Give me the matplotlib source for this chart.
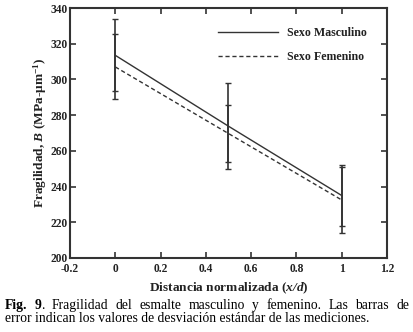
import numpy as np
import matplotlib
matplotlib.use("Agg")
import matplotlib.pyplot as plt

plt.rcParams['font.family'] = ['Liberation Serif', 'DejaVu Serif']
plt.rcParams['mathtext.fontset'] = 'custom'
plt.rcParams['mathtext.rm'] = 'Liberation Serif:bold'
plt.rcParams['mathtext.it'] = 'Liberation Serif:italic'
plt.rcParams['mathtext.bf'] = 'Liberation Serif:bold'
plt.rcParams['mathtext.bfit'] = 'Liberation Serif:bold:italic'

# datos
x = [0, 0.5, 1]
masculino = [313.5, 273.8, 235.0]
femenino = [307.0, 269.7, 232.5]
err_masc = [20.2, 24.2, 17.1]
err_fem = [18.2, 16.0, 18.6]

xticks = [-0.2, 0, 0.2, 0.4, 0.6, 0.8, 1, 1.2]
xticklabels = ['-0.2', '0', '0.2', '0.4', '0.6', '0.8', '1', '1.2']
yticks = [200, 220, 240, 260, 280, 300, 320, 340]

col = '#333333'

fig = plt.figure(figsize=(4.13, 3.32), dpi=100)
ax = fig.add_axes([0.1695, 0.2229, 0.7675, 0.753])

ax.plot(x, masculino, '-', color=col, lw=1.0, label='Sexo Masculino')
ax.plot(x, femenino, '--', color=col, lw=1.0, dashes=(3, 2), label='Sexo Femenino')
ax.errorbar(x, masculino, yerr=err_masc, fmt='none', ecolor=col, elinewidth=1.2,
            capsize=2, capthick=1.0)
ax.errorbar(x, femenino, yerr=err_fem, fmt='none', ecolor=col, elinewidth=1.2,
            capsize=2, capthick=1.0)

ax.set_xlim(-0.2, 1.2)
ax.set_ylim(200, 340)
ax.set_xticks(xticks)
ax.set_xticklabels(xticklabels)
ax.set_yticks(yticks)
ax.tick_params(direction='in', top=True, right=True, length=4, width=1.2,
               colors=col, labelsize=8.3)
ax.tick_params(axis='x', pad=3.5)
ax.tick_params(axis='y', pad=1.5)
for lab in ax.get_xticklabels() + ax.get_yticklabels():
    lab.set_fontweight('bold')
    lab.set_color('#222222')
for s in ax.spines.values():
    s.set_linewidth(1.5)
    s.set_color(col)

ax.set_xlabel(r'Distancia normalizada ($\mathbfit{x/d}$)', fontsize=9.6,
              fontweight='bold', color='#222222', labelpad=4)
ax.set_ylabel(r'Fragilidad, $\mathbfit{B}$ (MPa-μm$^{\mathbf{-1}}$)', fontsize=9.6,
              fontweight='bold', color='#222222', labelpad=1)

leg = ax.legend(loc='upper left', frameon=False, fontsize=8.6, handlelength=5.0,
                handletextpad=0.75, labelspacing=1.0, borderpad=0, borderaxespad=0,
                bbox_to_anchor=(0.467, 0.924))
for t in leg.get_texts():
    t.set_fontweight('bold')
    t.set_color('#222222')

# caption, first line justified
fig.canvas.draw()
renderer = fig.canvas.get_renderer()
line1 = [('Fig.', 'bold'), ('9.', 'mixed'), ('Fragilidad', 'normal'), ('del', 'normal'),
         ('esmalte', 'normal'), ('masculino', 'normal'), ('y', 'normal'),
         ('femenino.', 'normal'), ('Las', 'normal'), ('barras', 'normal'), ('de', 'normal')]
fs = 9.8
x0, x1 = 5 / 413, 409 / 413
y1 = 1 - 309 / 332
texts = []
for w, wt in line1:
    if wt == 'mixed':
        t = fig.text(0, y1, '9', fontsize=fs, fontweight='bold', va='baseline')
        t2 = fig.text(0, y1, '.', fontsize=fs, va='baseline')
        texts.append([t, t2])
    else:
        texts.append([fig.text(0, y1, w, fontsize=fs, fontweight=wt, va='baseline')])
widths = []
for grp in texts:
    widths.append([g.get_window_extent(renderer).width / fig.bbox.width for g in grp])
total = sum(sum(w) for w in widths)
gap = ((x1 - x0) - total) / (len(texts) - 1)
pos = x0
for grp, ws in zip(texts, widths):
    for g, w in zip(grp, ws):
        g.set_x(pos)
        pos += w
    pos += gap

fig.text(x0, 1 - 322.5 / 332,
         'error indican los valores de desviación estándar de las mediciones.',
         fontsize=fs, va='baseline')

fig.savefig('out.png', dpi=100)
